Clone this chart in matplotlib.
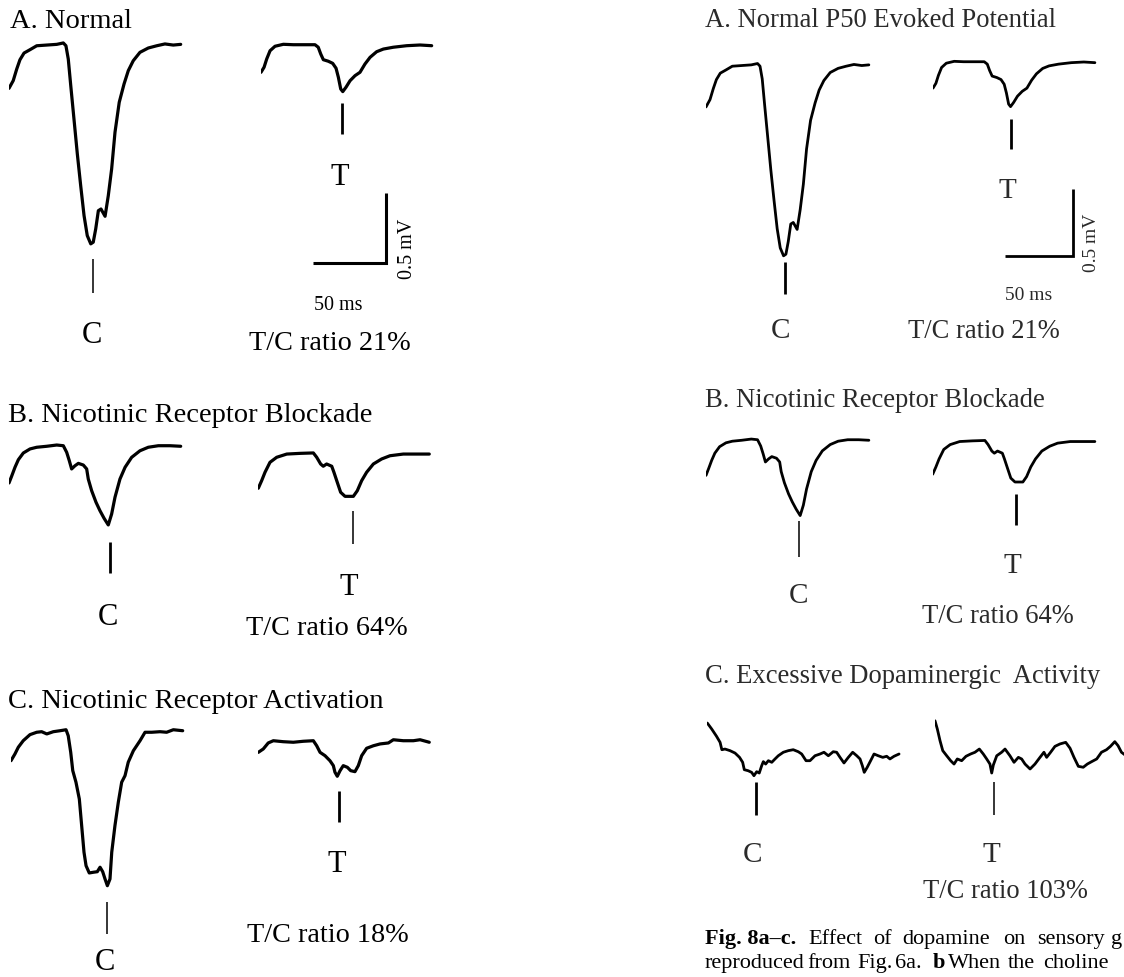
import matplotlib
matplotlib.use("Agg")
import matplotlib.pyplot as plt
from matplotlib.transforms import Affine2D, blended_transform_factory

plt.rcParams['font.family'] = ['Liberation Serif', 'DejaVu Serif']

# ---------------- data (time in ms from trace start, amplitude in microvolts) ----------------
normal_C_ms = [0, 2.9, 5.3, 7.5, 10.3, 14.4, 19, 25.8, 32.7, 37.2, 39, 40.6, 42.3, 44.5, 46.8, 49.1,
               51.4, 53.6, 56, 57.7, 59.4, 61.2, 63, 65.8, 68, 70.3, 72.6, 75.5, 78.8, 81.7, 85.1,
               89.7, 95.4, 101.2, 106.8, 112.5, 117.6]
normal_C_uV = [-313, -258, -175, -109, -61, -37, -9, -4, 1, 11, -9, -104, -294, -532, -782, -1008,
               -1222, -1365, -1424, -1412, -1317, -1187, -1175, -1227, -1080, -889, -627, -413, -282,
               -187, -116, -56, -25, -9, 4, -4, 1]

normal_T_ms = [0, 2.1, 3.9, 6.2, 9.6, 15.3, 22.1, 29, 37, 39.2, 40.9, 42.7, 46.1, 49.1, 51.4, 53,
               54.6, 56, 58.2, 61, 64.4, 67.8, 71.2, 74.7, 79.2, 83.8, 90.6, 99.8, 108.9, 116.9]
normal_T_uV = [-195, -159, -100, -41, -9, 5, 2, 2, 2, -16, -64, -105, -116, -131, -166, -231,
               -314, -333, -302, -255, -219, -195, -136, -88, -48, -29, -16, -5, 0, -5]

block_C_ms = [0, 1.8, 4.1, 6.4, 9.8, 14.4, 19, 25.8, 32.7, 37.2, 39.5, 41.3, 42.9, 45.2, 47.5, 50.9,
              53.2, 54.3, 56.6, 59.6, 62.3, 65.1, 68, 70.3, 72.6, 76, 79.5, 84, 89.7, 95.4, 102.3,
              110.3, 117.6]
block_C_uV = [-264, -216, -152, -98, -50, -21, -9, -2, 7, 2, -45, -105, -164, -141, -124, -136,
              -164, -236, -319, -402, -462, -516, -564, -486, -366, -236, -152, -81, -34, -9, 2, 2, -2]

block_T_ms = [0, 2.3, 4.6, 8, 12.6, 19.5, 28.6, 37.7, 40, 42.7, 44.5, 46.8, 50.3, 51.8, 54.1, 56.4,
              59.4, 65.1, 67.8, 70.8, 74.2, 78.8, 84.5, 90.2, 99.3, 108.5, 117.1]
block_T_uV = [-248, -194, -134, -63, -27, -4, 1, 4, -27, -75, -91, -75, -91, -134, -206, -277,
              -306, -306, -266, -194, -134, -75, -39, -16, -4, -4, -4]

activ_C_ms = [0, 2.7, 5, 8.4, 13, 17.6, 21, 24.5, 29, 33.6, 37.7, 39.2, 40.9, 42.3, 44.5, 46.8,
              48.4, 50, 51.4, 53.6, 56.4, 59.1, 61, 62.8, 64.4, 66, 67.8, 69, 71.2, 73.5, 75.8,
              78.1, 80.3, 83.8, 88.4, 91.8, 96.4, 102.1, 106.6, 111.2, 117.6]
activ_C_uV = [-212, -164, -116, -69, -26, -9, -5, -21, -5, 2, 9, -34, -152, -283, -366, -486,
              -676, -866, -962, -1014, -1009, -1005, -973, -1005, -1057, -1105, -1057, -866, -676,
              -509, -366, -319, -223, -141, -69, -9, -9, -5, -9, 9, 2]

activ_T_ms = [0, 3.4, 6.8, 10.3, 17.1, 24, 30.8, 37.7, 40, 42.3, 45.7, 49.1, 51.4, 52.5, 54.1, 56,
              58.2, 61, 63.3, 66.2, 68.5, 70.8, 74.2, 78.8, 83.4, 89.1, 92.5, 99.3, 106.2, 110.8, 117.1]
activ_T_uV = [-81, -57, -14, 2, -5, -9, -2, 2, -34, -81, -105, -141, -176, -223, -252, -212,
              -176, -188, -212, -219, -176, -105, -52, -34, -21, -14, 9, 2, 2, 9, -9]

dopa_C_ms = [0, 3.2, 6.8, 9.4, 10.7, 13, 16.7, 20.4, 23.7, 26, 27.2, 30.1, 32.6, 34.3, 36.3, 38.2,
             40, 41.2, 42.9, 44.9, 47.4, 49.8, 52.2, 55.9, 59.6, 63.2, 66.9, 69.4, 72.6, 75.5, 79.2,
             82.9, 85.8, 89, 92.6, 95.1, 97.6, 100.5, 103.7, 106.9, 109.9, 112.3, 114, 115.4, 117.6,
             120.1, 122.6, 125.7, 129, 131.9, 134.3, 137.3, 141]
dopa_C_uV = [231, 187, 132, 87, 32, 37, 25, 7, -25, -62, -117, -125, -137, -162, -132, -142,
             -87, -57, -75, -50, -62, -37, -13, 13, 25, 32, 17, 0, -50, -50, -13,
             0, 13, -13, 17, 13, -25, -67, -25, 13, -13, -37, -87, -137, -99,
             -50, 0, -13, -25, -17, -37, -17, 0]

dopa_T_ms = [0, 1.7, 3.7, 5.7, 8.6, 11.5, 14, 16.4, 19.6, 22.8, 26.2, 29.4, 32.6, 35.5, 38, 40.4,
             41.7, 42.9, 45.4, 49, 51.5, 55.1, 58.1, 61.3, 63.7, 66.2, 69.9, 73.5, 77.2, 80.1, 82.1,
             85, 88.2, 91.9, 96.1, 99.3, 102.2, 105.4, 109, 112, 115.2, 118.9, 122.4, 126.1, 129,
             132.2, 134.6, 137.1, 138.8, 142]
dopa_T_uV = [248, 187, 99, 25, -13, -50, -75, -37, -50, -17, 0, 13, 37, 0, -37, -75,
             -142, -82, -13, 13, 37, -13, -62, -25, -37, -75, -112, -75, -25, 13, -25,
             13, 57, 75, 87, 43, -25, -92, -99, -75, -57, -37, 13, 32, 57,
             92, 62, 13, 0, -25]

# latency of the C / T marks under each response (ms from trace start)
marks_left_ms = {'A': (57.3, 55.5), 'B': (69.2, 64.9), 'C': (65.8, 55.3)}
marks_right_ms = {'A': (57.3, 56.5), 'B': (67.0, 60.0), 'C': (35.8, 43.4)}

ratios_left = ['T/C ratio 21%', 'T/C ratio 64%', 'T/C ratio 18%']
ratios_right = ['T/C ratio 21%', 'T/C ratio 64%', 'T/C ratio 103%']
titles_left = ['A. Normal', 'B. Nicotinic Receptor Blockade', 'C. Nicotinic Receptor Activation']
titles_right = ['A. Normal P50 Evoked Potential', 'B. Nicotinic Receptor Blockade',
                'C. Excessive Dopaminergic  Activity']
scale_ms, scale_uV = 50, 500

# ---------------- figure ----------------
W, H = 1124, 978
fig = plt.figure(figsize=(W / 100, H / 100), dpi=100)
pix = Affine2D().scale(1 / W, -1 / H).translate(0, 1) + fig.transFigure


def trace_axes(x0, base, sx, sy, t_max=150, v_lo=-1700, v_hi=450):
    top_px = base - v_hi * sy
    bot_px = base - v_lo * sy
    ax = fig.add_axes([x0 / W, 1 - bot_px / H, t_max * sx / W, (bot_px - top_px) / H])
    ax.set_xlim(0, t_max)
    ax.set_ylim(v_lo, v_hi)
    ax.axis('off')
    ax.patch.set_alpha(0)
    return ax


def draw_trace(t, v, x0, base, sx, sy, lw, mark_ms, mark_y, mark_lw):
    ax = trace_axes(x0, base, sx, sy)
    ax.plot(t, v, color='black', lw=lw, solid_joinstyle='round', solid_capstyle='round')
    tr = blended_transform_factory(ax.transData, pix)
    ax.plot([mark_ms, mark_ms], mark_y, color='black', lw=mark_lw, transform=tr,
            clip_on=False, solid_capstyle='butt')
    return ax


def scalebar(xc, yc, sx, sy, lw):
    ax = trace_axes(xc - 60 * sx, yc, sx, sy, t_max=70, v_lo=-100, v_hi=650)
    ax.plot([60 - scale_ms, 60, 60], [0, 0, scale_uV], color='black', lw=lw,
            solid_joinstyle='miter', solid_capstyle='butt')


def txt(x, y, s, size, ha='left', color='black', **kw):
    fig.text(x, y, s, transform=pix, fontsize=size, ha=ha, va='baseline', color=color, **kw)


# ---- left column ----
sxL, syL = 1.46, 0.14
lwL = 2.3
draw_trace(normal_C_ms, normal_C_uV, 9, 45.5, sxL, syL, lwL, marks_left_ms['A'][0], [260, 294], 1.1)
draw_trace(normal_T_ms, normal_T_uV, 261, 46, sxL, syL, lwL, marks_left_ms['A'][1], [104, 135], 2.0)
draw_trace(block_C_ms, block_C_uV, 9, 447, sxL, syL, lwL, marks_left_ms['B'][0], [543, 574], 2.0)
draw_trace(block_T_ms, block_T_uV, 258.3, 454.5, sxL, syL, lwL, marks_left_ms['B'][1], [512, 545], 1.1)
draw_trace(activ_C_ms, activ_C_uV, 11, 732, sxL, syL, lwL, marks_left_ms['C'][0], [903, 935], 1.1)
draw_trace(activ_T_ms, activ_T_uV, 258.3, 742, sxL, syL, lwL, marks_left_ms['C'][1], [792, 823], 2.0)
scalebar(386, 264, sxL, syL, 2.2)

for (x, y), s in zip([(10, 28), (8, 422), (8, 708)], titles_left):
    txt(x, y, s, 20.5)
for (x, y), s in zip([(330, 350), (327, 635), (328, 942)], ratios_left):
    txt(x, y, s, 20.3, ha='center')
for (x, y) in [(92, 343), (108, 625), (105, 970)]:
    txt(x, y, 'C', 22, ha='center')
for (x, y) in [(340, 185), (349, 595), (337, 872)]:
    txt(x, y, 'T', 22, ha='center')
txt(338, 310, '50 ms', 14.5, ha='center')
fig.text(407, 249, '0.5 mV', transform=pix, fontsize=14.5, rotation=90, ha='center', va='center')

# ---- right column ----
sxR, syR = 1.385, 0.134
lwR = 2.0
gray = '#2a2a2a'
draw_trace(normal_C_ms, normal_C_uV, 706, 66, sxR, syR, lwR, marks_right_ms['A'][0], [263, 295], 2.0)
draw_trace(normal_T_ms, normal_T_uV, 933, 63, sxR, syR, lwR, marks_right_ms['A'][1], [120, 150], 2.0)
draw_trace(block_C_ms, block_C_uV, 706, 441, sxR, syR, lwR, marks_right_ms['B'][0], [522, 558], 1.1)
draw_trace(block_T_ms, block_T_uV, 932.7, 442, sxR, syR, lwR, marks_right_ms['B'][1], [495, 526], 2.0)
draw_trace(dopa_C_ms, dopa_C_uV, 707.3, 755, 1.36, syR, lwR, marks_right_ms['C'][0], [783, 816], 2.0)
draw_trace(dopa_T_ms, dopa_T_uV, 935, 755, 1.36, syR, lwR, marks_right_ms['C'][1], [783, 816], 1.1)
scalebar(1073, 257, 1.36, syR, 2.0)

for (x, y), s in zip([(705, 27), (705, 407), (705, 683)], titles_right):
    txt(x, y, s, 19.2, color=gray)
for (x, y), s in zip([(984, 338), (998, 623), (1005, 898)], ratios_right):
    txt(x, y, s, 19.1, ha='center', color=gray)
for (x, y) in [(780, 338), (798, 603), (752, 862)]:
    txt(x, y, 'C', 21, ha='center', color=gray)
for (x, y) in [(1007, 198), (1012, 573), (991, 862)]:
    txt(x, y, 'T', 21, ha='center', color=gray)
txt(1029, 300, '50 ms', 14, ha='center', color=gray)
fig.text(1091, 243, '0.5 mV', transform=pix, fontsize=14, rotation=90, ha='center', va='center',
         color=gray)

# caption (justified lines, as far as the page edge shows them)
line1 = [(705, 'Fig. 8a\u2013c.', 'bold'), (808, 'Effect', 'normal'), (873, 'of', 'normal'),
         (902, 'dopamine', 'normal'), (1003, 'on', 'normal'), (1037, 'sensory', 'normal'),
         (1111, 'g', 'normal')]
line2 = [(705, 'reproduced', 'normal'), (807, 'from', 'normal'), (857, 'Fig.', 'normal'),
         (895, '6a.', 'normal'), (933, 'b', 'bold'), (948, 'When', 'normal'),
         (1008, 'the', 'normal'), (1043, 'choline', 'normal')]
for x, s, w in line1:
    txt(x, 944, s, 16, fontweight=w)
for x, s, w in line2:
    txt(x, 968, s, 16, fontweight=w)

fig.savefig('out.png', dpi=100)
